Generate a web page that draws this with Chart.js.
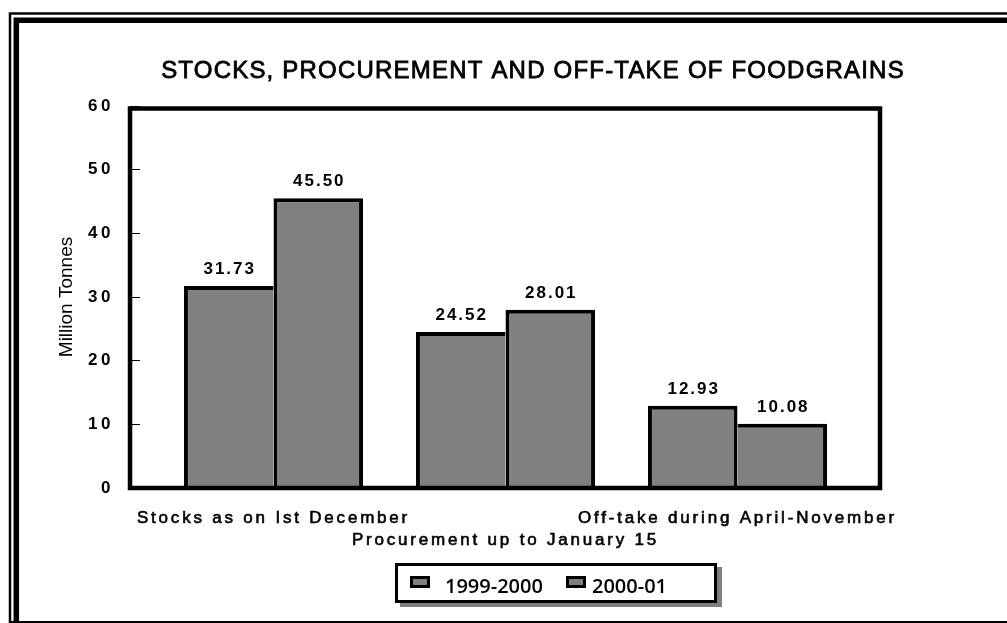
<!DOCTYPE html>
<html>
<head>
<meta charset="utf-8">
<script src="https://cdn.jsdelivr.net/npm/chart.js@4.4.1/dist/chart.umd.min.js"></script>
<style>
  html, body { margin: 0; padding: 0; background: #fff; }
  canvas { display: block; }
</style>
</head>
<body>
<canvas id="chart" width="1007" height="623"></canvas>
<script>
// ---- data ----
const chartTitle = 'STOCKS, PROCUREMENT AND OFF-TAKE OF FOODGRAINS';
const categories = ['Stocks as on Ist December', 'Procurement up to January 15', 'Off-take during April-November'];
const seriesNames = ['1999-2000', '2000-01'];
const values1999 = [31.73, 24.52, 12.93];
const values2000 = [45.50, 28.01, 10.08];
const yTicks = [0, 10, 20, 30, 40, 50, 60];
const yTitle = 'Million Tonnes';

const FONT = "'Liberation Sans', Arial, sans-serif";
const BAR_FILL = '#808080';

// Shared edge between neighbouring bars is drawn once, by the taller bar.
function borderFor(datasetIndex) {
  return (ctx) => {
    const i = ctx.dataIndex;
    const a = values1999[i], b = values2000[i];
    if (datasetIndex === 0) {
      return { top: 4, left: 4, right: b > a ? 0 : 4, bottom: 0 };
    }
    return { top: 4, left: b > a ? 4 : 0, right: 4, bottom: 0 };
  };
}

// Letter spacing for tick labels, applied around each scale's label drawing.
const tickSpacing = { x: '2.8px', y: '3.5px' };
const spacingPlugin = {
  id: 'tickSpacing',
  beforeDraw(chart) {
    Object.values(chart.scales).forEach((scale) => {
      if (scale._spacedLabels) return;
      const orig = scale.drawLabels.bind(scale);
      scale.drawLabels = (area) => {
        const c = chart.ctx;
        c.save();
        c.letterSpacing = tickSpacing[scale.id] || '0px';
        orig(area);
        c.restore();
      };
      scale._spacedLabels = true;
    });
  }
};

// Double page frame on the left and top, thin rule at the bottom, and the title.
const pageFrame = {
  id: 'pageFrame',
  beforeDraw(chart) {
    const c = chart.ctx;
    c.save();
    c.fillStyle = '#fff';
    c.fillRect(0, 0, chart.width, chart.height);
    c.strokeStyle = '#000';
    c.lineJoin = 'miter';
    c.lineWidth = 2.5;
    c.beginPath();
    c.moveTo(10, chart.height);
    c.lineTo(10, 13.5);
    c.lineTo(chart.width, 13.5);
    c.stroke();
    c.lineWidth = 5.5;
    c.beginPath();
    c.moveTo(16.3, chart.height);
    c.lineTo(16.3, 20.2);
    c.lineTo(chart.width, 20.2);
    c.stroke();
    c.fillStyle = '#000';
    c.fillRect(10, chart.height - 2, chart.width - 10, 2);

    c.fillStyle = '#000';
    c.strokeStyle = '#000';
    c.lineWidth = 0.8;
    c.font = '24px ' + FONT;
    c.letterSpacing = '1.2px';
    c.textAlign = 'center';
    c.textBaseline = 'alphabetic';
    c.fillText(chartTitle, 533, 78);
    c.strokeText(chartTitle, 533, 78);
    c.restore();
  }
};

// Plot box and value labels above the bars.
const plotBox = {
  id: 'plotBox',
  afterDatasetsDraw(chart) {
    const c = chart.ctx;
    const a = chart.chartArea;
    c.save();
    c.strokeStyle = '#000';
    c.lineWidth = 4.5;
    c.lineJoin = 'miter';
    c.strokeRect(a.left, a.top + 2.5, a.right - a.left, a.bottom - a.top - 2.5);

    c.fillStyle = '#000';
    c.font = 'bold 17px ' + FONT;
    c.letterSpacing = '2px';
    c.textAlign = 'center';
    c.textBaseline = 'alphabetic';
    chart.data.datasets.forEach((ds, di) => {
      chart.getDatasetMeta(di).data.forEach((bar, i) => {
        c.fillText(ds.data[i].toFixed(2), bar.x + 1, bar.y - 12);
      });
    });
    c.restore();
  }
};

// Framed legend with drop shadow.
const boxLegend = {
  id: 'boxLegend',
  afterDraw(chart) {
    const c = chart.ctx;
    const bx = 395, by = 563, bw = 322, bh = 40;
    c.save();
    c.fillStyle = '#808080';
    c.fillRect(bx + 5, by + 4, bw, bh);
    c.fillStyle = '#fff';
    c.fillRect(bx, by, bw, bh);
    c.strokeStyle = '#000';
    c.lineWidth = 3;
    c.strokeRect(bx + 1.5, by + 1.5, bw - 3, bh - 3);

    const swatchX = [410, 566];
    const textX = [445, 592];
    c.font = '600 20px "Open Sans", sans-serif';
    c.textAlign = 'left';
    c.textBaseline = 'alphabetic';
    chart.data.datasets.forEach((ds, i) => {
      c.fillStyle = ds.backgroundColor;
      c.fillRect(swatchX[i], 576, 20, 12);
      c.lineWidth = 3;
      c.strokeStyle = '#000';
      c.strokeRect(swatchX[i] + 1.5, 577.5, 17, 9);
      c.fillStyle = '#000';
      c.fillText(ds.label, textX[i], 593);
    });
    c.restore();
  }
};

new Chart(document.getElementById('chart'), {
  type: 'bar',
  data: {
    labels: categories.map((_, i) => i),
    datasets: [
      { label: seriesNames[0], data: values1999, backgroundColor: BAR_FILL, borderColor: '#000', borderWidth: borderFor(0), borderSkipped: false },
      { label: seriesNames[1], data: values2000, backgroundColor: BAR_FILL, borderColor: '#000', borderWidth: borderFor(1), borderSkipped: false }
    ]
  },
  options: {
    responsive: false,
    animation: false,
    events: [],
    layout: { padding: { left: 55, right: 127, top: 106, bottom: 65 } },
    categoryPercentage: 0.772,
    barPercentage: 1,
    plugins: {
      legend: { display: false },
      title: { display: false },
      tooltip: { enabled: false }
    },
    scales: {
      x: {
        type: 'linear',
        offset: false,
        min: -0.6185,
        max: 2.6142,
        afterBuildTicks: (scale) => { scale.ticks = categories.map((_, i) => ({ value: i })); },
        afterFit: (scale) => { scale.height = 70; },
        grid: { display: false, drawTicks: false, offset: false },
        border: { display: false },
        ticks: {
          autoSkip: false,
          maxRotation: 0,
          minRotation: 0,
          padding: 19,
          color: '#000',
          textStrokeColor: '#000',
          textStrokeWidth: 0.6,
          font: { family: FONT, size: 17, lineHeight: 1.3 },
          callback: (v) => {
            const label = categories[v];
            return v % 2 === 1 ? ['', label] : label;
          }
        }
      },
      y: {
        min: yTicks[0],
        max: yTicks[yTicks.length - 1],
        afterBuildTicks: (scale) => { scale.ticks = yTicks.map((v) => ({ value: v })); },
        afterFit: (scale) => { scale.width = 75; },
        grid: { drawOnChartArea: false, drawTicks: true, tickLength: -10, color: '#000', lineWidth: 1 },
        border: { display: false },
        ticks: {
          padding: 26,
          color: '#000',
          font: { family: FONT, size: 17, weight: 'bold' },
          callback: (v) => String(v)
        },
        title: {
          display: true,
          text: yTitle,
          color: '#000',
          padding: { top: 0, bottom: 0 },
          font: { family: FONT, size: 19, lineHeight: 1.2 }
        }
      }
    }
  },
  plugins: [pageFrame, spacingPlugin, plotBox, boxLegend]
});
</script>
</body>
</html>
